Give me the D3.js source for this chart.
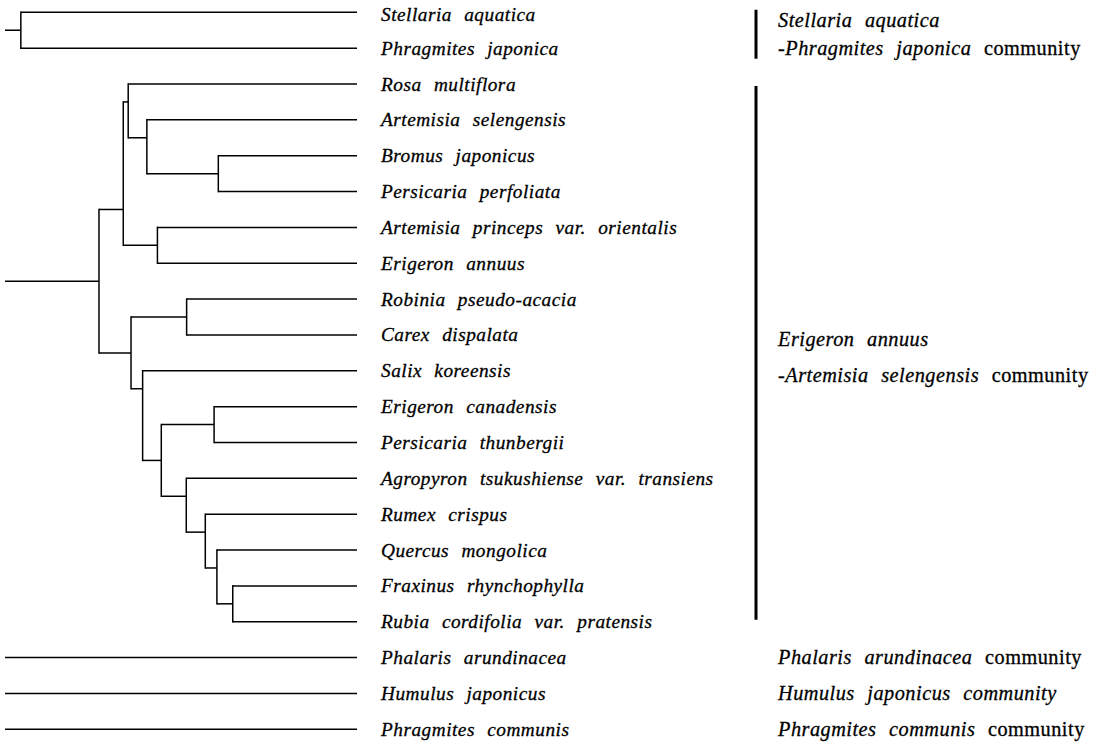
<!DOCTYPE html>
<html>
<head>
<meta charset="utf-8">
<script src="https://cdn.jsdelivr.net/npm/d3@7/dist/d3.min.js"></script>
<style>
  html, body { margin: 0; padding: 0; background: #fff; }
  svg { display: block; }
  text { font-family: "Liberation Serif", "Times New Roman", serif; font-size: 19.3px; fill: #000;
         stroke: #000; stroke-width: 0.3px; letter-spacing: 0.5px; word-spacing: 7px; }
  .community text { font-size: 20.3px; }
  .it { font-style: italic; }
</style>
</head>
<body>
<svg id="chart" width="1093" height="743"></svg>
<script>
// Species in dendrogram order (top to bottom)
const species = [
  "Stellaria aquatica",
  "Phragmites japonica",
  "Rosa multiflora",
  "Artemisia selengensis",
  "Bromus japonicus",
  "Persicaria perfoliata",
  "Artemisia princeps var. orientalis",
  "Erigeron annuus",
  "Robinia pseudo-acacia",
  "Carex dispalata",
  "Salix koreensis",
  "Erigeron canadensis",
  "Persicaria thunbergii",
  "Agropyron tsukushiense var. transiens",
  "Rumex crispus",
  "Quercus mongolica",
  "Fraxinus rhynchophylla",
  "Rubia cordifolia var. pratensis",
  "Phalaris arundinacea",
  "Humulus japonicus",
  "Phragmites communis"
];

// Linkage: [child A, child B, dissimilarity]; ids >= species.length refer to earlier merges
const merges = [
  [0, 1, 0.955],    // 21
  [4, 5, 0.394],    // 22
  [3, 22, 0.597],   // 23
  [2, 23, 0.650],   // 24
  [6, 7, 0.567],    // 25
  [24, 25, 0.664],  // 26
  [8, 9, 0.484],    // 27
  [16, 17, 0.353],  // 28
  [15, 28, 0.398],  // 29
  [14, 29, 0.431],  // 30
  [13, 30, 0.485],  // 31
  [11, 12, 0.406],  // 32
  [32, 31, 0.556],  // 33
  [10, 33, 0.609],  // 34
  [27, 34, 0.642],  // 35
  [26, 35, 0.733]   // 36
];

// Clusters joined at the top of the scale
const topClusters = [21, 36, 18, 19, 20];
const rootDistance = 1.0;

// Community labels (segments wrapped in * are italic)
const communityText = [
  ["*Stellaria aquatica*", "*-Phragmites japonica* community"],
  ["*Erigeron annuus*", "*-Artemisia selengensis* community"],
  ["*Phalaris arundinacea* community"],
  ["*Humulus japonicus community*"],
  ["*Phragmites communis* community"]
];
// First and last species row of each community
const communityRows = [[0, 1], [2, 17], [18, 18], [19, 19], [20, 20]];

// ---- build hierarchy ----
const nodes = species.map(name => ({ name, distance: 0 }));
merges.forEach(([a, b, d]) => nodes.push({ children: [nodes[a], nodes[b]], distance: d }));
const root = d3.hierarchy({ children: topClusters.map(i => nodes[i]), distance: rootDistance });

const svg = d3.select("#chart");
const x = d3.scaleLinear().domain([0, rootDistance]).range([357, 5]);
const y = d3.scalePoint().domain(species).range([12.3, 729.3]);
const step = y.step();

// vertical position: leaves on their row, joins placed at the gap between the two children
root.eachAfter(n => {
  if (!n.children) { n.py = y(n.data.name); return; }
  const leavesA = n.children[0].leaves();
  const leavesB = n.children[n.children.length - 1].leaves();
  n.py = (y(leavesA[leavesA.length - 1].data.name) + y(leavesB[0].data.name)) / 2;
});

const g = svg.append("g")
  .attr("fill", "none")
  .attr("stroke", "#000")
  .attr("stroke-width", 1.5);

// horizontal branches
g.selectAll("line.h")
  .data(root.descendants().filter(n => n.parent))
  .join("line")
  .attr("class", "h")
  .attr("x1", n => x(n.parent.data.distance))
  .attr("x2", n => x(n.data.distance))
  .attr("y1", n => n.py)
  .attr("y2", n => n.py);

// vertical joins (not for the root)
g.selectAll("line.v")
  .data(root.descendants().filter(n => n.parent && n.children))
  .join("line")
  .attr("class", "v")
  .attr("x1", n => x(n.data.distance))
  .attr("x2", n => x(n.data.distance))
  .attr("y1", n => n.children[0].py - 0.75)
  .attr("y2", n => n.children[n.children.length - 1].py + 0.75);

// species labels
svg.append("g").selectAll("text")
  .data(species)
  .join("text")
  .attr("class", "it")
  .attr("x", 381)
  .attr("y", (d, i) => y(d) + (i === 0 ? 8.5 : 6.5))
  .text(d => d);

// community labels and brackets
const labelX = 778, barX = 756;
function addRich(textSel, str) {
  str.split(/(\*[^*]+\*)/).filter(s => s.length).forEach(seg => {
    const italic = seg.startsWith("*");
    textSel.append("tspan")
      .attr("class", italic ? "it" : null)
      .text(italic ? seg.slice(1, -1) : seg);
  });
}
const cg = svg.append("g").attr("class", "community");
communityText.forEach((lines, i) => {
  const [r0, r1] = communityRows[i];
  const top = y(species[r0]), bottom = y(species[r1]);
  const multi = lines.length > 1;
  const gap = r1 - r0 > 1 ? step : step * 0.78;
  const mid = (top + bottom) / 2 + (multi ? 4.5 : 0);
  const centers = lines.map((_, k) => mid + (k - (lines.length - 1) / 2) * gap);
  lines.forEach((line, k) => {
    const t = cg.append("text").attr("x", labelX).attr("y", centers[k] + 6.5);
    addRich(t, line);
  });
  if (r1 > r0) {
    const y1 = Math.min(top + 2, centers[0] - 11);
    const y2 = Math.max(bottom - 2, centers[centers.length - 1] + 10);
    cg.append("line")
      .attr("x1", barX).attr("x2", barX)
      .attr("y1", y1).attr("y2", y2)
      .attr("stroke", "#000").attr("stroke-width", 3);
  }
});
</script>
</body>
</html>
